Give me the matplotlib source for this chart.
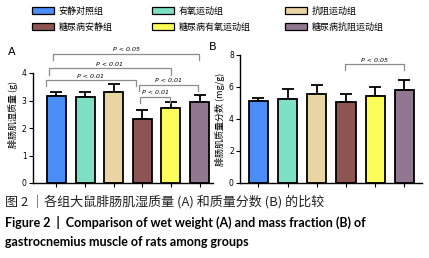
import matplotlib.pyplot as plt
from matplotlib.patches import Patch

plt.rcParams['font.family'] = ['Noto Sans CJK SC', 'DejaVu Sans']

# groups and colours
groups = ["安静对照组", "有氧运动组", "抗阻运动组", "糖尿病安静组", "糖尿病有氧运动组", "糖尿病抗阻运动组"]
colors = ["#4a8df6", "#7fdfc4", "#e9d5a3", "#8c5553", "#fdfd5a", "#927791"]

# panel A: wet weight (g)
wet_mean = [3.18, 3.11, 3.30, 2.33, 2.74, 2.95]
wet_err = [0.13, 0.19, 0.30, 0.32, 0.19, 0.26]
# panel B: mass fraction (mg/g)
frac_mean = [5.10, 5.22, 5.58, 5.06, 5.46, 5.80]
frac_err = [0.24, 0.65, 0.55, 0.50, 0.52, 0.65]

# significance brackets: (x1, x2, y, label)
brackets_a = [(-0.12, 4.98, 4.69, "P < 0.05"),
              (-0.26, 4.00, 4.17, "P < 0.01"),
              (-0.38, 2.77, 3.74, "P < 0.01"),
              (2.88, 4.95, 3.56, "P < 0.01"),
              (2.92, 3.98, 3.14, "P < 0.01")]
brackets_b = [(2.97, 4.97, 7.42, "P < 0.05")]

fig = plt.figure(figsize=(4.29, 2.58), dpi=100)
W, H = 429, 258


def add_ax(x0, x1, y0, y1):
    return fig.add_axes([x0 / W, 1 - y1 / H, (x1 - x0) / W, (y1 - y0) / H])


def draw_panel(ax, means, errs, brackets, ymax, yticks, xlim, ylabel):
    x = list(range(len(means)))
    ax.bar(x, means, width=0.66, color=colors, edgecolor="black", linewidth=1.3, zorder=2)
    ax.errorbar(x, means, yerr=[[0] * len(errs), errs], fmt="none", ecolor="black",
                elinewidth=1.3, capsize=4.5, capthick=1.3, zorder=1)
    for x1, x2, y, lab in brackets:
        leg = ymax * 0.045
        ax.plot([x1, x1, x2, x2], [y - leg, y, y, y - leg], color="#8c8c8c", lw=0.9,
                clip_on=False)
        ax.text((x1 + x2) / 2, y + ymax * 0.012, lab, ha="center", va="bottom",
                fontsize=4.5, fontstyle="italic", family="DejaVu Sans")
    ax.set_xlim(*xlim)
    ax.set_ylim(0, ymax)
    ax.set_yticks(yticks)
    ax.set_yticklabels([str(t) for t in yticks], fontsize=5.5, family="DejaVu Sans")
    ax.set_xticks(x)
    ax.set_xticklabels([])
    ax.spines["top"].set_visible(False)
    ax.spines["right"].set_visible(False)
    ax.spines["left"].set_bounds(0, yticks[-1])
    for s in ("left", "bottom"):
        ax.spines[s].set_linewidth(1.0)
    ax.tick_params(axis="both", length=3, width=0.8, pad=1.5)
    ax.set_ylabel(ylabel, fontsize=6.5, labelpad=3)


ax_a = add_ax(33, 213, 45.5, 183)
draw_panel(ax_a, wet_mean, wet_err, brackets_a, 5.0, [0, 1, 2, 3, 4], (-0.82, 5.47),
           "腓肠肌湿质量 (g)")
ax_b = add_ax(240, 422, 55, 183)
draw_panel(ax_b, frac_mean, frac_err, brackets_b, 8.0, [0, 2, 4, 6, 8], (-0.63, 5.6),
           "腓肠肌质量分数 (mg/g)")

fig.text(12 / W, 1 - 52 / H, "A", fontsize=8, ha="center", va="center", family="DejaVu Sans")
fig.text(213 / W, 1 - 47 / H, "B", fontsize=8, ha="center", va="center", family="DejaVu Sans")

# legend: three columns, two rows (row-wise order), one legend per column
col_x = [28, 148, 281]
for c, cx in enumerate(col_x):
    idx = [c, c + 3]
    handles = [Patch(facecolor=colors[i], edgecolor="black", linewidth=0.9) for i in idx]
    fig.legend(handles, [groups[i] for i in idx], loc="upper left",
               bbox_to_anchor=(cx / W, 1 - 3 / H), ncol=1, frameon=False, fontsize=6.5,
               handlelength=2.5, handleheight=0.8, labelspacing=0.75, handletextpad=0.5,
               borderaxespad=0)

fig.text(5 / W, 1 - 202 / H, "图 2 ｜各组大鼠腓肠肌湿质量 (A) 和质量分数 (B) 的比较",
         fontsize=9.4, va="center", ha="left", color="#222222")
fig.text(5 / W, 1 - 222 / H,
         "Figure 2  |  Comparison of wet weight (A) and mass fraction (B) of",
         fontsize=9, va="center", ha="left", fontweight="bold", family="Lato")
fig.text(5 / W, 1 - 242 / H, "gastrocnemius muscle of rats among groups",
         fontsize=9, va="center", ha="left", fontweight="bold", family="Lato")

fig.savefig("out.png", dpi=100)
